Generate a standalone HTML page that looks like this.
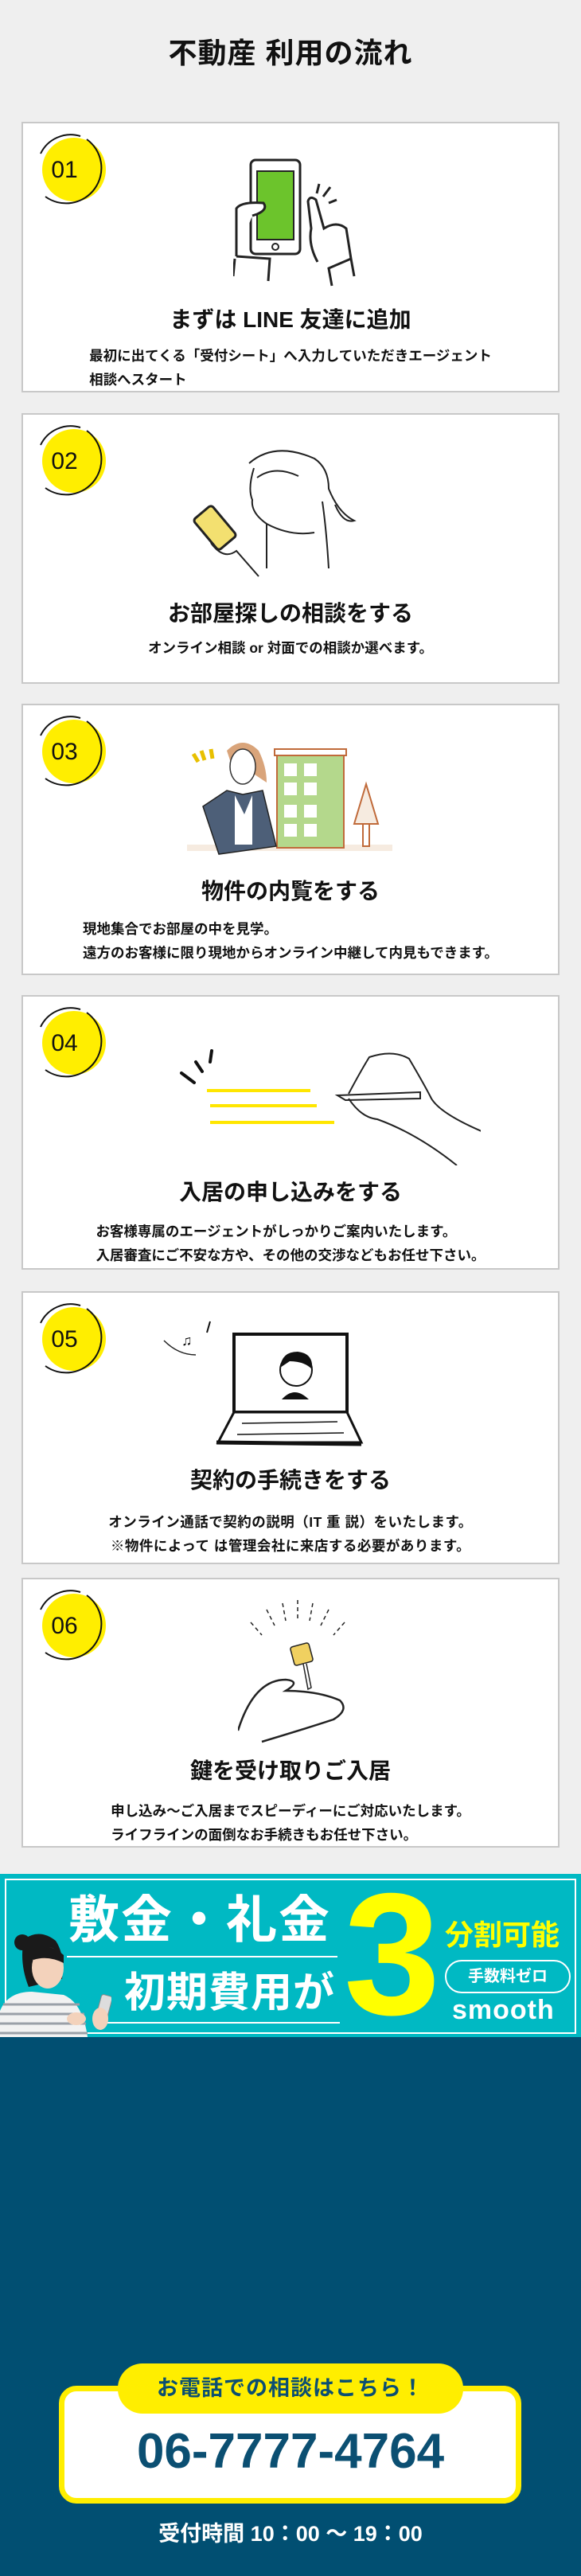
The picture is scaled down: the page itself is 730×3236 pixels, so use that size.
<!DOCTYPE html>
<html><head><meta charset="utf-8">
<style>
*{margin:0;padding:0;box-sizing:border-box}
body{width:730px;height:3236px;background:#efefef;position:relative;overflow:hidden;font-family:"Liberation Sans","Noto Sans CJK JP",sans-serif;color:#111}
.abs{position:absolute}
h1{position:absolute;top:38px;left:0;width:730px;text-align:center;font-size:36px;font-weight:700;letter-spacing:1px}
.card{position:absolute;left:27px;width:676px;background:#fff;border:2px solid #c8c8c8}
.badge{position:absolute;left:10px;top:8px;width:100px;height:100px}
.title{position:absolute;left:0;width:100%;text-align:center;font-size:28px;font-weight:700;line-height:36px}
.desc{position:absolute;left:0;width:100%;text-align:center;font-size:17.5px;font-weight:700;line-height:30px}
.desc span{display:inline-block;text-align:left}
svg{position:absolute}
</style></head><body>
<h1>不動産 利用の流れ</h1>

<div class="card" style="top:153px;height:340px">
<svg class="badge" viewBox="0 0 100 100"><circle cx="54" cy="50" r="40" fill="#ffee00"/><path d="M12 30 A42 42 0 0 1 62 8" fill="none" stroke="#111" stroke-width="2"/><path d="M70 12 A42 42 0 0 1 18 84" fill="none" stroke="#111" stroke-width="2"/><text x="42" y="60" font-size="30" text-anchor="middle" font-family="Liberation Sans" fill="#111">01</text></svg>
<svg style="left:264px;top:42px" width="180" height="166" viewBox="0 0 180 166">
<rect x="22" y="4" width="62" height="118" rx="6" fill="#fff" stroke="#222" stroke-width="3"/>
<rect x="30" y="18" width="46" height="86" fill="#6cc42c" stroke="#222" stroke-width="2"/>
<circle cx="53" cy="113" r="4" fill="none" stroke="#222" stroke-width="2"/>
<path d="M4 125 L4 65 Q10 56 38 58 Q44 66 30 72 L24 74 M4 125 L46 128 L44 156 M2 128 L0 150" fill="#fff" stroke="#222" stroke-width="3"/>
<path d="M106 132 Q94 110 98 90 L94 56 Q96 48 104 54 L114 90 Q130 80 142 90 L148 128 L120 140 L124 162 M148 128 L152 150" fill="#fff" stroke="#222" stroke-width="3"/>
<path d="M108 34 L105 46 M122 38 L113 50 M130 54 L120 58" stroke="#222" stroke-width="3"/>
</svg>
<div class="title" style="top:229px">まずは LINE 友達に追加</div>
<div class="desc" style="top:277px"><span>最初に出てくる「受付シート」へ入力していただきエージェント<br>相談へスタート</span></div>
</div>

<div class="card" style="top:519px;height:340px">
<svg class="badge" viewBox="0 0 100 100"><circle cx="54" cy="50" r="40" fill="#ffee00"/><path d="M12 30 A42 42 0 0 1 62 8" fill="none" stroke="#111" stroke-width="2"/><path d="M70 12 A42 42 0 0 1 18 84" fill="none" stroke="#111" stroke-width="2"/><text x="42" y="60" font-size="30" text-anchor="middle" font-family="Liberation Sans" fill="#111">02</text></svg>
<svg style="left:206px;top:33px" width="222" height="180" viewBox="0 0 222 180">
<path d="M78 28 Q110 0 160 22 Q178 34 178 60 Q190 90 210 100 Q196 104 186 80 M84 34 Q76 60 82 74 Q80 90 100 104 L100 160 M170 76 Q175 110 178 160 M100 104 Q130 120 160 115" fill="none" stroke="#222" stroke-width="2"/>
<path d="M88 46 Q110 30 140 44" fill="none" stroke="#222" stroke-width="2"/>
<rect x="10" y="94" width="50" height="30" rx="4" transform="rotate(50 35 109)" fill="#f3e070" stroke="#222" stroke-width="3"/>
<path d="M30 128 Q46 150 62 138 L90 170" fill="none" stroke="#222" stroke-width="2"/>
</svg>
<div class="title" style="top:232px">お部屋探しの相談をする</div>
<div class="desc" style="top:278px">オンライン相談 or 対面での相談か選べます。</div>
</div>

<div class="card" style="top:884px;height:341px">
<svg class="badge" viewBox="0 0 100 100"><circle cx="54" cy="50" r="40" fill="#ffee00"/><path d="M12 30 A42 42 0 0 1 62 8" fill="none" stroke="#111" stroke-width="2"/><path d="M70 12 A42 42 0 0 1 18 84" fill="none" stroke="#111" stroke-width="2"/><text x="42" y="60" font-size="30" text-anchor="middle" font-family="Liberation Sans" fill="#111">03</text></svg>
<svg style="left:206px;top:37px" width="260" height="156" viewBox="0 0 260 156">
<rect x="0" y="138" width="258" height="8" fill="#f6ebe0"/>
<rect x="113" y="24" width="84" height="118" fill="#b4d88c" stroke="#c06a3a" stroke-width="2"/>
<rect x="110" y="18" width="90" height="8" fill="#fff" stroke="#c06a3a" stroke-width="2"/>
<g fill="#fff"><rect x="122" y="36" width="16" height="16"/><rect x="147" y="36" width="16" height="16"/><rect x="122" y="60" width="16" height="16"/><rect x="147" y="60" width="16" height="16"/><rect x="122" y="88" width="16" height="16"/><rect x="147" y="88" width="16" height="16"/><rect x="122" y="112" width="16" height="16"/><rect x="147" y="112" width="16" height="16"/></g>
<path d="M225 62 L210 112 L240 112 Z" fill="#f6ebe0" stroke="#c06a3a" stroke-width="2"/>
<rect x="221" y="112" width="8" height="28" fill="#fff" stroke="#c06a3a" stroke-width="2"/>
<path d="M50 20 Q70 0 90 20 Q100 40 100 60 L85 50 L60 50 Z" fill="#d9a47a"/>
<ellipse cx="70" cy="40" rx="16" ry="22" fill="#fff" stroke="#333" stroke-width="1.5"/>
<path d="M20 90 L50 70 L70 75 L95 70 L112 140 L40 150 Z" fill="#4d5f78" stroke="#222" stroke-width="1.5"/>
<path d="M60 76 L72 100 L82 76 L82 138 L60 138 Z" fill="#fff"/>
<path d="M8 24 l6 10 M18 20 l4 12 M30 18 l2 12" stroke="#e8c000" stroke-width="5"/>
</svg>
<div class="title" style="top:216px">物件の内覧をする</div>
<div class="desc" style="top:266px"><span>現地集合でお部屋の中を見学。<br>遠方のお客様に限り現地からオンライン中継して内見もできます。</span></div>
</div>

<div class="card" style="top:1250px;height:345px">
<svg class="badge" viewBox="0 0 100 100"><circle cx="54" cy="50" r="40" fill="#ffee00"/><path d="M12 30 A42 42 0 0 1 62 8" fill="none" stroke="#111" stroke-width="2"/><path d="M70 12 A42 42 0 0 1 18 84" fill="none" stroke="#111" stroke-width="2"/><text x="42" y="60" font-size="30" text-anchor="middle" font-family="Liberation Sans" fill="#111">04</text></svg>
<svg style="left:195px;top:62px" width="380" height="150" viewBox="0 0 380 150">
<path d="M4 34 L20 46 M22 20 L30 32 M42 6 L40 20" stroke="#111" stroke-width="4" stroke-linecap="round"/>
<path d="M36 56 L166 56 M40 75 L174 75 M40 96 L196 96" stroke="#ffe600" stroke-width="4"/>
<path d="M200 62 L304 58 L304 66 L210 68 Z" fill="#fff" stroke="#222" stroke-width="2"/>
<path d="M214 60 Q230 30 240 14 Q270 4 290 16 Q310 50 318 66 Q330 86 388 110 M214 66 Q230 90 250 92 Q300 110 350 150" fill="none" stroke="#222" stroke-width="2"/>
</svg>
<div class="title" style="top:228px">入居の申し込みをする</div>
<div class="desc" style="top:280px"><span>お客様専属のエージェントがしっかりご案内いたします。<br>入居審査にご不安な方や、その他の交渉などもお任せ下さい。</span></div>
</div>

<div class="card" style="top:1622px;height:343px">
<svg class="badge" viewBox="0 0 100 100"><circle cx="54" cy="50" r="40" fill="#ffee00"/><path d="M12 30 A42 42 0 0 1 62 8" fill="none" stroke="#111" stroke-width="2"/><path d="M70 12 A42 42 0 0 1 18 84" fill="none" stroke="#111" stroke-width="2"/><text x="42" y="60" font-size="30" text-anchor="middle" font-family="Liberation Sans" fill="#111">05</text></svg>
<svg style="left:175px;top:30px" width="280" height="166" viewBox="0 0 280 166">
<path d="M2 30 Q20 48 42 48" fill="none" stroke="#222" stroke-width="1.5"/>
<text x="24" y="36" font-size="18" fill="#111">♫</text>
<path d="M60 6 L56 20" stroke="#111" stroke-width="2"/>
<rect x="90" y="22" width="142" height="98" fill="#fff" stroke="#111" stroke-width="4"/>
<path d="M90 120 L70 158 L250 158 L232 120 Z" fill="#fff" stroke="#111" stroke-width="3"/>
<path d="M68 158 L250 160" stroke="#111" stroke-width="5"/>
<path d="M100 134 L220 132 M94 148 L228 146" stroke="#111" stroke-width="1.5"/>
<circle cx="168" cy="67" r="20" fill="#fff" stroke="#111" stroke-width="2"/>
<path d="M148 64 Q150 44 170 44 Q190 46 188 66 Q178 56 160 56 Z" fill="#111"/>
<path d="M150 104 Q166 86 184 104 Z" fill="#111"/>
</svg>
<div class="title" style="top:218px">契約の手続きをする</div>
<div class="desc" style="top:273px;letter-spacing:0.5px">オンライン通話で契約の説明（IT 重 説）をいたします。<br>※物件によって は管理会社に来店する必要があります。</div>
</div>

<div class="card" style="top:1982px;height:339px">
<svg class="badge" viewBox="0 0 100 100"><circle cx="54" cy="50" r="40" fill="#ffee00"/><path d="M12 30 A42 42 0 0 1 62 8" fill="none" stroke="#111" stroke-width="2"/><path d="M70 12 A42 42 0 0 1 18 84" fill="none" stroke="#111" stroke-width="2"/><text x="42" y="60" font-size="30" text-anchor="middle" font-family="Liberation Sans" fill="#111">06</text></svg>
<svg style="left:270px;top:26px" width="150" height="190" viewBox="0 0 150 190">
<g stroke="#222" stroke-width="1.5" stroke-dasharray="5 4"><path d="M75 0 L75 24"/><path d="M56 4 L60 26"/><path d="M94 4 L90 26"/><path d="M36 12 L46 32"/><path d="M114 12 L104 32"/><path d="M16 28 L30 44"/><path d="M134 28 L120 44"/></g>
<rect x="68" y="56" width="24" height="24" rx="3" transform="rotate(-15 80 68)" fill="#f0d060" stroke="#222" stroke-width="1.5"/>
<path d="M82 80 L88 112 L92 110 L86 80" fill="#fff" stroke="#222" stroke-width="1.5"/>
<path d="M0 164 Q20 100 60 100 Q80 102 60 114 Q100 114 128 126 Q140 138 120 150 Q90 160 30 178" fill="none" stroke="#222" stroke-width="2.5"/>
</svg>
<div class="title" style="top:223px">鍵を受け取りご入居</div>
<div class="desc" style="top:276px"><span>申し込み～ご入居までスピーディーにご対応いたします。<br>ライフラインの面倒なお手続きもお任せ下さい。</span></div>
</div>

<div class="abs" style="left:0;top:2354px;width:730px;height:205px;background:#00b9c3"></div>
<div class="abs" style="left:6px;top:2360px;width:718px;height:195px;border:2px solid #fff"></div>
<div class="abs" style="left:86px;top:2376px;font-size:64px;font-weight:700;color:#fff;line-height:72px;letter-spacing:2px">敷金・礼金</div>
<div class="abs" style="left:84px;top:2457px;width:340px;height:2px;background:#fff"></div>
<div class="abs" style="left:156px;top:2474px;font-size:52px;font-weight:700;color:#fff;line-height:60px;letter-spacing:1px">初期費用が</div>
<div class="abs" style="left:135px;top:2540px;width:292px;height:2px;background:#fff"></div>
<div class="abs" style="left:432px;top:2346px;font-size:218px;font-weight:700;color:#ffff00;line-height:220px;font-family:'Liberation Sans',sans-serif">3</div>
<div class="abs" style="left:559px;top:2410px;font-size:36px;font-weight:700;color:#ffff00;line-height:42px">分割可能</div>
<div class="abs" style="left:559px;top:2462px;width:158px;height:42px;border:2px solid #fff;border-radius:21px;color:#fff;font-size:20px;font-weight:700;text-align:center;line-height:38px">手数料ゼロ</div>
<div class="abs" style="left:568px;top:2506px;font-size:34px;font-weight:700;color:#fff;line-height:38px;letter-spacing:1px">smooth</div>
<svg style="left:0;top:2426px" width="140" height="133" viewBox="0 0 140 133">
<path d="M30 10 Q50 -4 70 12 Q82 30 78 60 L36 70 Q24 40 30 10 Z" fill="#1a1a1a"/>
<circle cx="28" cy="14" r="10" fill="#1a1a1a"/>
<ellipse cx="60" cy="46" rx="20" ry="26" fill="#f3d2bb"/>
<path d="M40 24 Q60 12 80 30 L80 40 Q60 30 42 36 Z" fill="#1a1a1a"/>
<path d="M0 100 Q10 76 40 76 L80 80 Q104 90 110 133 L0 133 Z" fill="#f2f2f2"/>
<g stroke="#9aa0a8" stroke-width="3"><path d="M4 92 L100 92"/><path d="M0 104 L106 104"/><path d="M0 116 L108 116"/><path d="M0 128 L110 128"/></g>
<rect x="124" y="80" width="14" height="30" rx="3" transform="rotate(15 130 95)" fill="#ddd" stroke="#888"/>
<ellipse cx="126" cy="110" rx="10" ry="14" fill="#f3d2bb"/>
<ellipse cx="96" cy="110" rx="12" ry="8" fill="#f3d2bb"/>
</svg>

<div class="abs" style="left:0;top:2559px;width:730px;height:677px;background:#014f72"></div>
<div class="abs" style="left:74px;top:2997px;width:581px;height:148px;background:#fff;border:7px solid #ffee00;border-radius:22px"></div>
<div class="abs" style="left:148px;top:2969px;width:434px;height:63px;background:#ffee00;border-radius:31px;color:#0b4f72;font-size:27px;font-weight:700;text-align:center;line-height:63px;letter-spacing:1px">お電話での相談はこちら！</div>
<div class="abs" style="left:0;top:3046px;width:730px;text-align:center;font-size:62px;font-weight:700;color:#0b4f72;line-height:68px">06-7777-4764</div>
<div class="abs" style="left:0;top:3166px;width:730px;text-align:center;font-size:27px;font-weight:700;color:#fff;line-height:34px">受付時間 10：00 ～ 19：00</div>
</body></html>
